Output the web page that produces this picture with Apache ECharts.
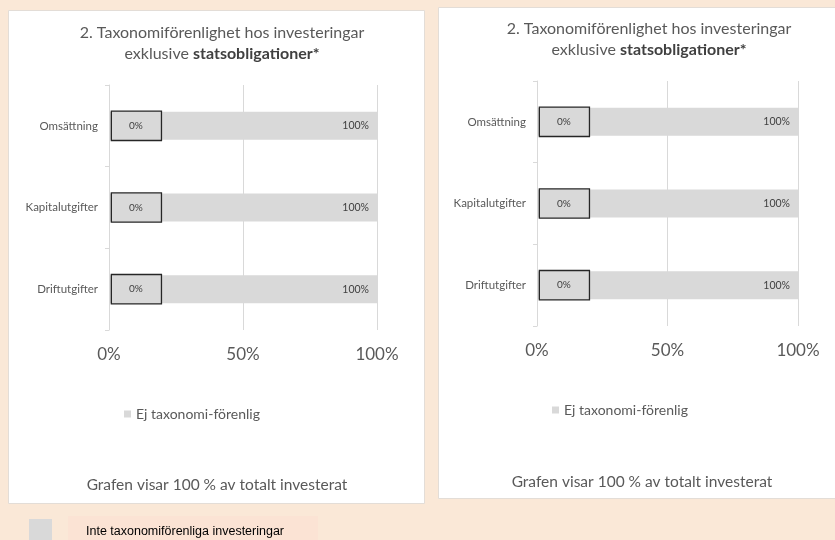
<!DOCTYPE html>
<html><head><meta charset="utf-8">
<script src="https://cdn.jsdelivr.net/npm/echarts@6/dist/echarts.min.js"></script>
<style>html,body{margin:0;padding:0;background:#FAE8D7}#c{width:835px;height:540px}</style>
</head><body><div id="c"></div>
<script>
const categories = ['Omsättning', 'Kapitalutgifter', 'Driftutgifter'];
const alignedLeft = [0, 0, 0];
const notAlignedLeft = [100, 100, 100];
const alignedRight = [0, 0, 0];
const notAlignedRight = [100, 100, 100];
const xTicks = [0, 50, 100];
const titleLine1 = '2. Taxonomiförenlighet hos investeringar';
const titleLine2a = 'exklusive ';
const titleLine2b = 'statsobligationer*';
const subtitleText = 'Grafen visar 100 % av totalt investerat';
const legendName = 'Ej taxonomi-förenlig';
const alignedName = 'Taxonomiförenlig';
const bottomLegendText = 'Inte taxonomiförenliga investeringar';

const FONT = 'Lato';
const GRAY = '#D9D9D9';
const TXT = '#595959';

const chart = echarts.init(document.getElementById('c'), null, {renderer: 'canvas'});

const grids = [
  {left: 109, top: 85, width: 268, height: 245},
  {left: 537, top: 81, width: 261, height: 245}
];

function xAxis(i) {
  return {
    type: 'value', gridIndex: i,
    min: xTicks[0], max: xTicks[xTicks.length - 1], interval: xTicks[1] - xTicks[0],
    axisLine: {show: false}, axisTick: {show: false},
    splitLine: {show: true, lineStyle: {color: GRAY, width: 1}},
    axisLabel: {formatter: '{value}%', fontFamily: FONT, fontSize: 17, color: TXT, margin: 16}
  };
}
function yAxis(i) {
  return {
    type: 'category', gridIndex: i, data: categories, inverse: true,
    axisLine: {show: true, lineStyle: {color: GRAY}},
    axisTick: {show: true, length: 4, lineStyle: {color: GRAY}},
    axisLabel: {fontFamily: FONT, fontSize: 11.5, color: TXT, margin: 11}
  };
}
function seriesFor(i, aligned, notAligned) {
  return [
    {
      name: alignedName, type: 'bar', stack: 's' + i, xAxisIndex: i, yAxisIndex: i,
      data: aligned, barWidth: 28, z: 4,
      itemStyle: {color: GRAY},
      label: {
        show: true, position: 'right', distance: 3, formatter: '{c}%',
        fontFamily: FONT, fontSize: 10, lineHeight: 12, color: '#404040',
        backgroundColor: GRAY, borderColor: '#262626', borderWidth: 1.3,
        padding: [8, 18, 8, 17]
      }
    },
    {
      name: legendName, type: 'bar', stack: 's' + i, xAxisIndex: i, yAxisIndex: i,
      data: notAligned, barWidth: 28, z: 2,
      itemStyle: {color: GRAY},
      label: {
        show: true, position: 'insideRight', distance: 8, formatter: '{c}%',
        fontFamily: FONT, fontSize: 10.5, color: '#404040'
      }
    }
  ];
}
function titleFor(x, y) {
  return {
    text: titleLine1 + '\n' + titleLine2a + '{b|' + titleLine2b + '}',
    left: x, top: y, textAlign: 'center', padding: 0,
    textStyle: {
      fontFamily: FONT, fontSize: 16, fontWeight: 'normal', color: TXT, lineHeight: 21,
      rich: {b: {fontFamily: FONT, fontSize: 16, fontWeight: 'bold', color: '#404040', lineHeight: 21}}
    }
  };
}
function legendFor(x, y) {
  return {
    data: [legendName], left: x, top: y, padding: 0, icon: 'rect',
    itemWidth: 7, itemHeight: 7, selectedMode: false,
    textStyle: {fontFamily: FONT, fontSize: 14, color: TXT, lineHeight: 16}
  };
}

const option = {
  backgroundColor: '#FAE8D7',
  animation: false,
  title: [titleFor(222, 22), titleFor(649, 18)],
  legend: [legendFor(124, 406), legendFor(552, 402)],
  grid: grids,
  xAxis: [xAxis(0), xAxis(1)],
  yAxis: [yAxis(0), yAxis(1)],
  series: seriesFor(0, alignedLeft, notAlignedLeft).concat(seriesFor(1, alignedRight, notAlignedRight)),
  graphic: [
    {type: 'rect', z: -10, shape: {x: 8.5, y: 10.5, width: 416, height: 493}, style: {fill: '#FFFFFF', stroke: '#E3DDD7', lineWidth: 1}},
    {type: 'rect', z: -10, shape: {x: 438.5, y: 7.5, width: 400, height: 491}, style: {fill: '#FFFFFF', stroke: '#E3DDD7', lineWidth: 1}},
    {type: 'text', z: 5, x: 217, y: 485, style: {text: subtitleText, fontFamily: FONT, fontSize: 15.5, fill: TXT, align: 'center', verticalAlign: 'middle'}},
    {type: 'text', z: 5, x: 642, y: 482, style: {text: subtitleText, fontFamily: FONT, fontSize: 15.5, fill: TXT, align: 'center', verticalAlign: 'middle'}},
    {type: 'rect', z: 5, shape: {x: 29, y: 519, width: 23, height: 21}, style: {fill: GRAY}},
    {type: 'rect', z: 5, shape: {x: 68, y: 516, width: 250, height: 24}, style: {fill: '#FBE3D4'}},
    {type: 'text', z: 6, x: 86, y: 532, style: {text: bottomLegendText, fontFamily: 'Liberation Sans', fontSize: 12.5, fill: '#000000', align: 'left', verticalAlign: 'middle'}}
  ]
};
chart.setOption(option);
</script>
</body></html>
